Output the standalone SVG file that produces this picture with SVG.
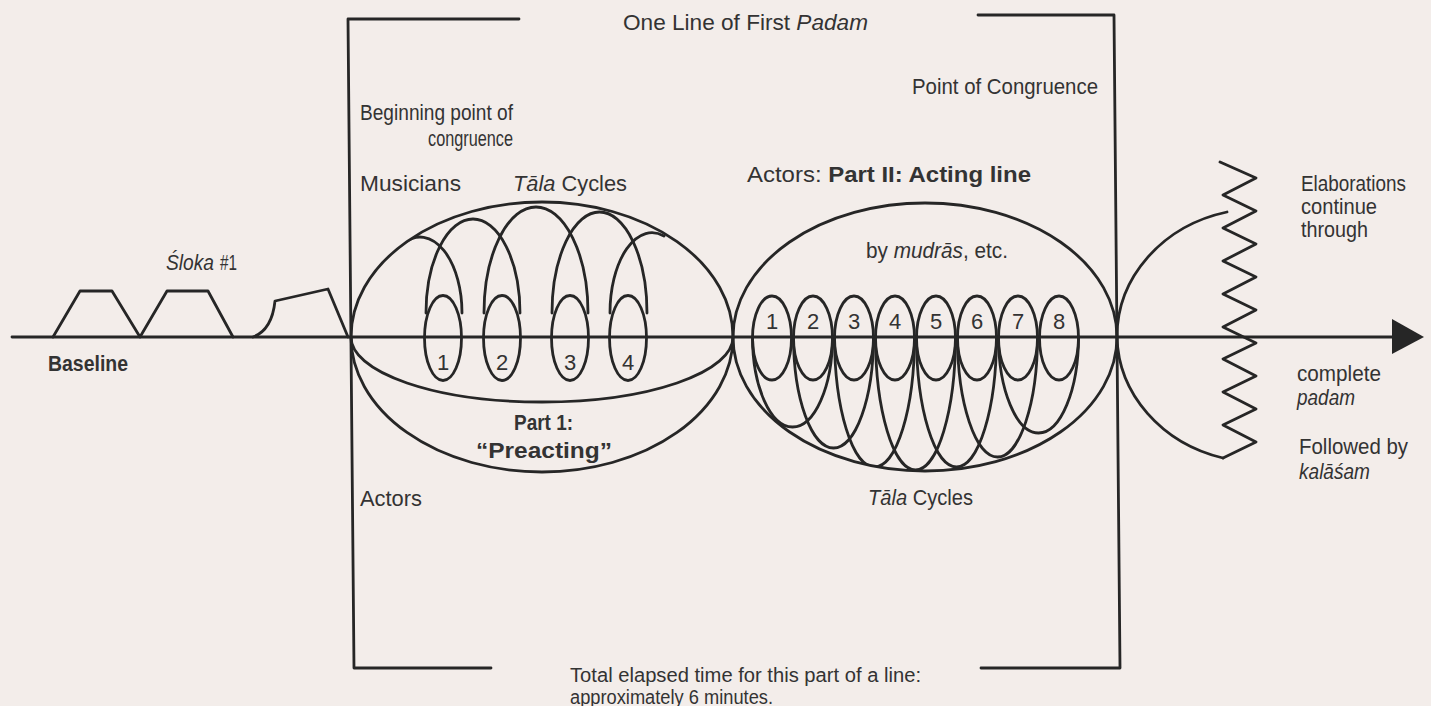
<svg xmlns="http://www.w3.org/2000/svg" width="1431" height="706" viewBox="0 0 1431 706">
<style>
.ln{fill:none;stroke:#262626;stroke-width:2.8;stroke-linejoin:round;stroke-linecap:round}
.t{font-family:"Liberation Sans Narrow","Liberation Sans",Arial,sans-serif;font-size:22px;fill:#333}
.b{font-weight:bold}
.i{font-style:italic}
.n{font-family:"Liberation Sans Narrow","Liberation Sans",Arial,sans-serif;font-size:22px;fill:#333;text-anchor:middle}
</style>
<defs>
<clipPath id="c1"><ellipse cx="542" cy="337" rx="191" ry="135"/></clipPath>
<clipPath id="c2"><ellipse cx="925" cy="337" rx="192" ry="134"/></clipPath>
</defs>
<rect width="1431" height="706" fill="#f3edea"/>

<g id="connectors">
<line class="ln" x1="12" y1="337" x2="1394" y2="337"/>
<polygon points="1392,319 1424,337 1392,354" fill="#262626"/>
</g>

<g id="frame">
<polyline class="ln" points="519,19 348,19 354,668 491,668"/>
<polyline class="ln" points="978,15 1114,15 1120,668 981,668"/>
</g>

<g id="sloka">
<polyline class="ln" points="53,337 80,291 112,291 140,337 167,291 208,291 233,337"/>
<path class="ln" d="M253,337 Q272,330 275,301 L328,289 L348,337"/>
</g>

<g id="part1">
<ellipse class="ln" cx="542" cy="337" rx="191" ry="135"/>
<path class="ln" d="M351,337 A191,65 0 0,0 733,337"/>
<ellipse class="ln" cx="443" cy="338" rx="18.5" ry="42.5"/>
<ellipse class="ln" cx="502" cy="338" rx="18.5" ry="42.5"/>
<ellipse class="ln" cx="570" cy="338" rx="18.5" ry="42.5"/>
<ellipse class="ln" cx="628" cy="338" rx="18.5" ry="42.5"/>
<g clip-path="url(#c1)">
<path class="ln" d="M405,242 A42,76 0 0,1 462,313"/>
<path class="ln" d="M426,313 A47,94 0 0,1 520,313"/>
<path class="ln" d="M484,313 A52,106 0 0,1 588,313"/>
<path class="ln" d="M552,313 A47.5,101 0 0,1 647,313"/>
<path class="ln" d="M610,313 A42,80 0 0,1 664,236"/>
</g>
<text class="n" x="443" y="370">1</text>
<text class="n" x="502" y="370">2</text>
<text class="n" x="570" y="370">3</text>
<text class="n" x="628" y="370">4</text>
</g>

<g id="part2">
<ellipse class="ln" cx="925" cy="337" rx="192" ry="134"/>
<ellipse class="ln" cx="772" cy="338" rx="19.5" ry="42"/>
<ellipse class="ln" cx="813" cy="338" rx="19.5" ry="42"/>
<ellipse class="ln" cx="854" cy="338" rx="19.5" ry="42"/>
<ellipse class="ln" cx="895" cy="338" rx="19.5" ry="42"/>
<ellipse class="ln" cx="936" cy="338" rx="19.5" ry="42"/>
<ellipse class="ln" cx="977" cy="338" rx="19.5" ry="42"/>
<ellipse class="ln" cx="1018" cy="338" rx="19.5" ry="42"/>
<ellipse class="ln" cx="1059" cy="338" rx="19.5" ry="42"/>
<g clip-path="url(#c2)">
<path class="ln" d="M752.5,337 A40,90 0 0,0 832.5,337"/>
<path class="ln" d="M793.5,337 A40,111 0 0,0 873.5,337"/>
<path class="ln" d="M834.5,337 A40,130 0 0,0 914.5,337"/>
<path class="ln" d="M875.5,337 A40,133 0 0,0 955.5,337"/>
<path class="ln" d="M916.5,337 A40,130 0 0,0 996.5,337"/>
<path class="ln" d="M957.5,337 A40,120 0 0,0 1037.5,337"/>
<path class="ln" d="M998.5,337 A40,96 0 0,0 1078.5,337"/>
</g>
<text class="n" x="772" y="329">1</text>
<text class="n" x="813" y="329">2</text>
<text class="n" x="854" y="329">3</text>
<text class="n" x="895" y="329">4</text>
<text class="n" x="936" y="329">5</text>
<text class="n" x="977" y="329">6</text>
<text class="n" x="1018" y="329">7</text>
<text class="n" x="1059" y="329">8</text>
</g>

<g id="elaborations">
<path class="ln" d="M1227,212 A143,128 0 0,0 1117,337 A143,128 0 0,0 1223,458"/>
<polyline class="ln" points="1220,162 1256,178 1223,195 1256,211 1223,228 1256,244 1223,261 1256,277 1223,294 1256,310 1223,327 1256,343 1223,359 1256,376 1223,392 1256,409 1223,425 1256,442 1223,458"/>
</g>

<g id="labels">
<text class="t" x="623" y="30" textLength="245" lengthAdjust="spacingAndGlyphs">One Line of First <tspan class="i">Padam</tspan></text>
<text class="t" x="360" y="120" textLength="153" lengthAdjust="spacingAndGlyphs">Beginning point of</text>
<text class="t" x="428" y="146" textLength="85" lengthAdjust="spacingAndGlyphs">congruence</text>
<text class="t" x="912" y="94" textLength="186" lengthAdjust="spacingAndGlyphs">Point of Congruence</text>
<text class="t" x="360" y="191" textLength="101" lengthAdjust="spacingAndGlyphs">Musicians</text>
<text class="t" x="513" y="191" textLength="114" lengthAdjust="spacingAndGlyphs"><tspan class="i">Tāla</tspan> Cycles</text>
<text class="t" x="747" y="182" textLength="284" lengthAdjust="spacingAndGlyphs">Actors: <tspan class="b">Part II: Acting line</tspan></text>
<text class="t i" x="166" y="270" textLength="48" lengthAdjust="spacingAndGlyphs">Śloka</text>
<text class="t" x="220" y="270" textLength="17" lengthAdjust="spacingAndGlyphs">#1</text>
<text class="t b" x="48" y="371" textLength="80" lengthAdjust="spacingAndGlyphs">Baseline</text>
<text class="t" x="866" y="258" textLength="142" lengthAdjust="spacingAndGlyphs">by <tspan class="i">mudrās</tspan>, etc.</text>
<text class="t b" x="514" y="430" textLength="59" lengthAdjust="spacingAndGlyphs">Part 1:</text>
<text class="t b" x="476" y="458" textLength="136" lengthAdjust="spacingAndGlyphs">“Preacting”</text>
<text class="t" x="360" y="506" textLength="62" lengthAdjust="spacingAndGlyphs">Actors</text>
<text class="t" x="868" y="505" textLength="105" lengthAdjust="spacingAndGlyphs"><tspan class="i">Tāla</tspan> Cycles</text>
<text class="t" x="1301" y="191" textLength="105" lengthAdjust="spacingAndGlyphs">Elaborations</text>
<text class="t" x="1301" y="214" textLength="76" lengthAdjust="spacingAndGlyphs">continue</text>
<text class="t" x="1301" y="237" textLength="67" lengthAdjust="spacingAndGlyphs">through</text>
<text class="t" x="1297" y="381" textLength="84" lengthAdjust="spacingAndGlyphs">complete</text>
<text class="t i" x="1297" y="405" textLength="58" lengthAdjust="spacingAndGlyphs">padam</text>
<text class="t" x="1299" y="454" textLength="109" lengthAdjust="spacingAndGlyphs">Followed by</text>
<text class="t i" x="1299" y="479" textLength="71" lengthAdjust="spacingAndGlyphs">kalāśam</text>
<text class="t" x="570" y="682" textLength="351" lengthAdjust="spacingAndGlyphs" style="font-size:20px">Total elapsed time for this part of a line:</text>
<text class="t" x="570" y="704" textLength="203" lengthAdjust="spacingAndGlyphs" style="font-size:20px">approximately 6 minutes.</text>
</g>
</svg>
